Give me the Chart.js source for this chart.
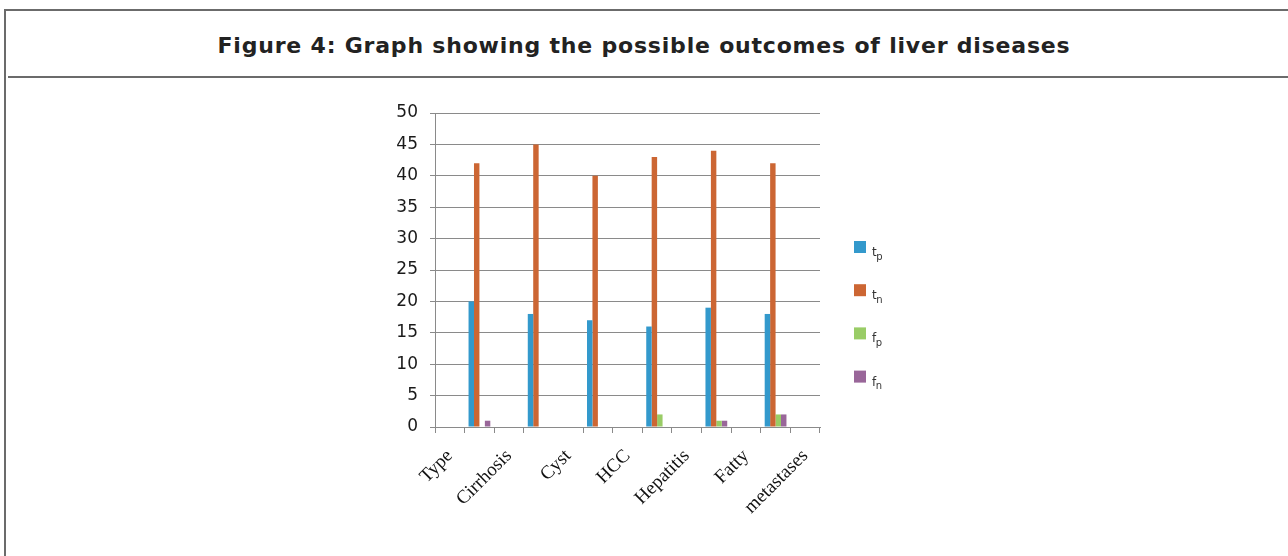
<!DOCTYPE html>
<html>
<head>
<meta charset="utf-8">
<title>Figure 4</title>
<script src="https://cdn.jsdelivr.net/npm/chart.js@4.4.1/dist/chart.umd.min.js"></script>
<style>
  html, body { margin: 0; padding: 0; background: #fff; width: 1288px; height: 556px; overflow: hidden; }
  #frame { position: absolute; left: 4px; top: 9px; width: 1300px; height: 600px;
           border-left: 2px solid #6b6b6b; border-top: 2px solid #6b6b6b; }
  #rule { position: absolute; left: 8px; top: 76px; width: 1300px; height: 0; border-top: 2px solid #6b6b6b; }
  #title { position: absolute; left: 0; top: 33px; width: 1288px; line-height: 24px; text-align: center;
           font: bold 22px "DejaVu Sans", sans-serif; letter-spacing: 0.8px; color: #222; white-space: nowrap; }
  #wrap { position: absolute; left: 0; top: 0; width: 1288px; height: 556px; }
</style>
</head>
<body>
<div id="frame"></div>
<div id="rule"></div>
<div id="title">Figure 4: Graph showing the possible outcomes of liver diseases</div>
<div id="wrap"><canvas id="chart" width="1288" height="556"></canvas></div>
<script>
// Category axis: labels sit on every other slot, bars on the slots between them
const tickLabels = ['Type', '', 'Cirrhosis', '', 'Cyst', '', 'HCC', '', 'Hepatitis', '', 'Fatty', '', 'metastases'];

// Counts per outcome
const tp = [null, 20, null, 18, null, 17, null, 16, null, 19, null, 18, null];
const tn = [null, 42, null, 45, null, 40, null, 43, null, 44, null, 42, null];
const fp = [null, 0, null, 0, null, 0, null, 2, null, 1, null, 2, null];
const fn = [null, 1, null, 0, null, 0, null, 0, null, 1, null, 2, null];

// Legend names: base letter + subscript
const seriesBase = ['t', 't', 'f', 'f'];
const seriesSub = ['p', 'n', 'p', 'n'];
const seriesColors = ['#3399cc', '#cc6633', '#99cc66', '#996699'];

const yTicks = [0, 5, 10, 15, 20, 25, 30, 35, 40, 45, 50];

const gridGrey = '#8a8a8a';

// Side legend with subscripted names
const sideLegend = {
  id: 'sideLegend',
  afterDraw(chart) {
    const ctx = chart.ctx;
    const area = chart.chartArea;
    ctx.save();
    chart.data.datasets.forEach((ds, i) => {
      const x = area.right + 34;
      const y = area.top + 128 + i * 43.2;
      ctx.fillStyle = ds.backgroundColor;
      ctx.fillRect(x, y, 12, 12);
      ctx.fillStyle = '#333';
      ctx.textAlign = 'left';
      ctx.textBaseline = 'alphabetic';
      ctx.font = '12px "DejaVu Sans"';
      ctx.fillText(seriesBase[i], x + 18, y + 15);
      const w = ctx.measureText(seriesBase[i]).width;
      ctx.font = '10px "DejaVu Sans"';
      ctx.fillText(seriesSub[i], x + 17.5 + w, y + 18.5);
    });
    ctx.restore();
  }
};

const seriesData = [tp, tn, fp, fn];

new Chart(document.getElementById('chart'), {
  type: 'bar',
  data: {
    labels: tickLabels,
    datasets: seriesData.map((d, i) => ({
      label: seriesBase[i] + seriesSub[i],
      data: d,
      backgroundColor: seriesColors[i],
      borderWidth: 0,
      categoryPercentage: 0.735,
      barPercentage: 1.0
    }))
  },
  options: {
    responsive: false,
    animation: false,
    devicePixelRatio: 1,
    layout: { padding: { left: 375, right: 468, top: 113, bottom: 29 } },
    plugins: {
      legend: { display: false },
      tooltip: { enabled: false },
      title: { display: false }
    },
    scales: {
      x: {
        type: 'category',
        offset: true,
        afterFit(scale) { scale.height = 100; },
        grid: {
          display: true,
          offset: true,
          drawOnChartArea: false,
          drawTicks: true,
          tickLength: 6,
          color: gridGrey,
          tickColor: (c) => (c.index === 4 ? 'rgba(0,0,0,0)' : gridGrey)
        },
        border: { display: true, color: gridGrey, width: 1 },
        ticks: {
          autoSkip: false,
          minRotation: 45,
          maxRotation: 45,
          padding: 12,
          color: '#111',
          font: { family: '"Liberation Serif", serif', size: 19 }
        }
      },
      y: {
        min: 0,
        max: 50,
        afterFit(scale) { scale.width = 60; },
        afterBuildTicks(scale) { scale.ticks = yTicks.map(v => ({ value: v })); },
        grid: { color: gridGrey, lineWidth: 1, tickLength: 5, drawTicks: true },
        border: { display: true, color: gridGrey, width: 1 },
        ticks: {
          padding: 12,
          color: '#1a1a1a',
          font: { family: '"DejaVu Sans", sans-serif', size: 17 }
        }
      }
    }
  },
  plugins: [sideLegend]
});
</script>
</body>
</html>
